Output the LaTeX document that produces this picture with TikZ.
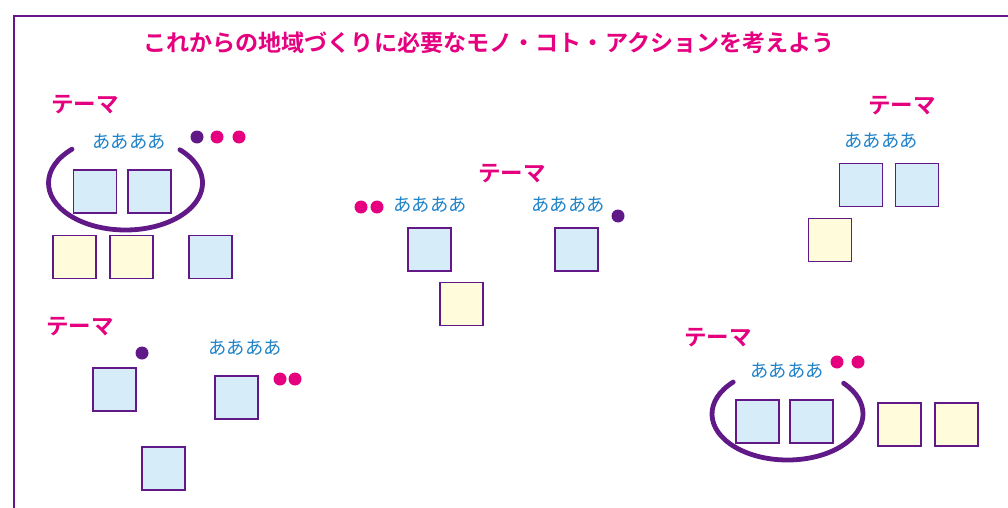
\documentclass[tikz,border=0pt]{standalone}
\usepackage{fontspec}
\newfontfamily\cjk{Noto Sans CJK JP}
\newfontfamily\cjkb{Noto Sans CJK JP Bold}
\definecolor{mag}{HTML}{E4007F}
\definecolor{pur}{HTML}{601986}
\definecolor{blu}{HTML}{1E82C8}
\definecolor{lblue}{HTML}{D7ECF9}
\definecolor{lyel}{HTML}{FFFBDB}
\tikzset{
  bsq/.style={draw=pur,line width=1.8pt,fill=lblue,minimum size=43pt,inner sep=0pt},
  ysq/.style={draw=pur,line width=1.8pt,fill=lyel,minimum size=43pt,inner sep=0pt},
  theme/.style={text=mag,inner sep=0pt,font=\cjkb\fontsize{22.5}{25}\selectfont},
  word/.style={text=blu,inner sep=0pt,font=\cjk\fontsize{18.3}{21}\selectfont},
  title/.style={text=mag,inner sep=0pt,font=\cjkb\fontsize{23.1}{26}\selectfont},
  pdot/.style={circle,fill=pur,minimum size=13pt,inner sep=0pt},
  mdot/.style={circle,fill=mag,minimum size=13pt,inner sep=0pt},
  hug/.style={draw=pur,line width=4.8pt,line cap=round}
}
\begin{document}
\begin{tikzpicture}[x=1pt,y=-1pt]
\useasboundingbox (0,0) rectangle (1008,508);
\draw[pur,line width=2pt] (14,520) -- (14,16) -- (1020,16);
\node[title] (title) at (489,43) {これからの地域づくりに必要なモノ・コト・アクションを考えよう};
% group 1 top-left
\node[theme] (t1) at (85,105) {テーマ};
\node[word] (w1) at (129,142) {ああああ};
\node[pdot] (d1a) at (197,137) {};
\node[mdot] (d1b) at (217,137) {};
\node[mdot] (d1c) at (239,137) {};
\node[bsq] (s1a) at (95,191.5) {};
\node[bsq] (s1b) at (149.5,191.5) {};
\node[ysq] (s1c) at (74.5,257) {};
\node[ysq] (s1d) at (131.5,257) {};
\node[bsq] (s1e) at (210.5,257) {};
\coordinate (c1) at (125.5,183);
\draw[hug] ([shift={(226:77 and 47)}]c1) arc[start angle=226,end angle=-45,x radius=77,y radius=47];
% group 2 middle
\node[theme] (t2) at (512,174) {テーマ};
\node[mdot] (d2a) at (361,207) {};
\node[mdot] (d2b) at (377,207) {};
\node[word] (w2a) at (430,205) {ああああ};
\node[word] (w2b) at (568,205) {ああああ};
\node[pdot] (d2c) at (618,216) {};
\node[bsq] (s2a) at (429.5,249.5) {};
\node[ysq] (s2b) at (461.5,304) {};
\node[bsq] (s2c) at (576.5,249.5) {};
% group 3 right
\node[theme] (t3) at (902,106) {テーマ};
\node[word] (w3) at (881,141) {ああああ};
\node[bsq] (s3a) at (861,185) {};
\node[bsq] (s3b) at (917,185) {};
\node[ysq] (s3c) at (830,240) {};
% group 4 bottom-left
\node[theme] (t4) at (80,327) {テーマ};
\node[pdot] (d4a) at (142,353) {};
\node[word] (w4) at (245,348) {ああああ};
\node[mdot] (d4b) at (280,379) {};
\node[mdot] (d4c) at (295,379) {};
\node[bsq] (s4a) at (114.5,389.5) {};
\node[bsq] (s4b) at (236.5,397.5) {};
\node[bsq] (s4c) at (163.5,468.5) {};
% group 5 bottom-right
\node[theme] (t5) at (718,338) {テーマ};
\node[word] (w5) at (787,371) {ああああ};
\node[mdot] (d5a) at (837,362) {};
\node[mdot] (d5b) at (858,362) {};
\node[bsq] (s5a) at (757.5,421.5) {};
\node[bsq] (s5b) at (811.5,421.5) {};
\node[ysq] (s5c) at (899.5,424.5) {};
\node[ysq] (s5d) at (956.5,424.5) {};
\coordinate (c5) at (787.5,414);
\draw[hug] ([shift={(224:75.5 and 46)}]c5) arc[start angle=224,end angle=-42,x radius=75.5,y radius=46];
\end{tikzpicture}
\end{document}
